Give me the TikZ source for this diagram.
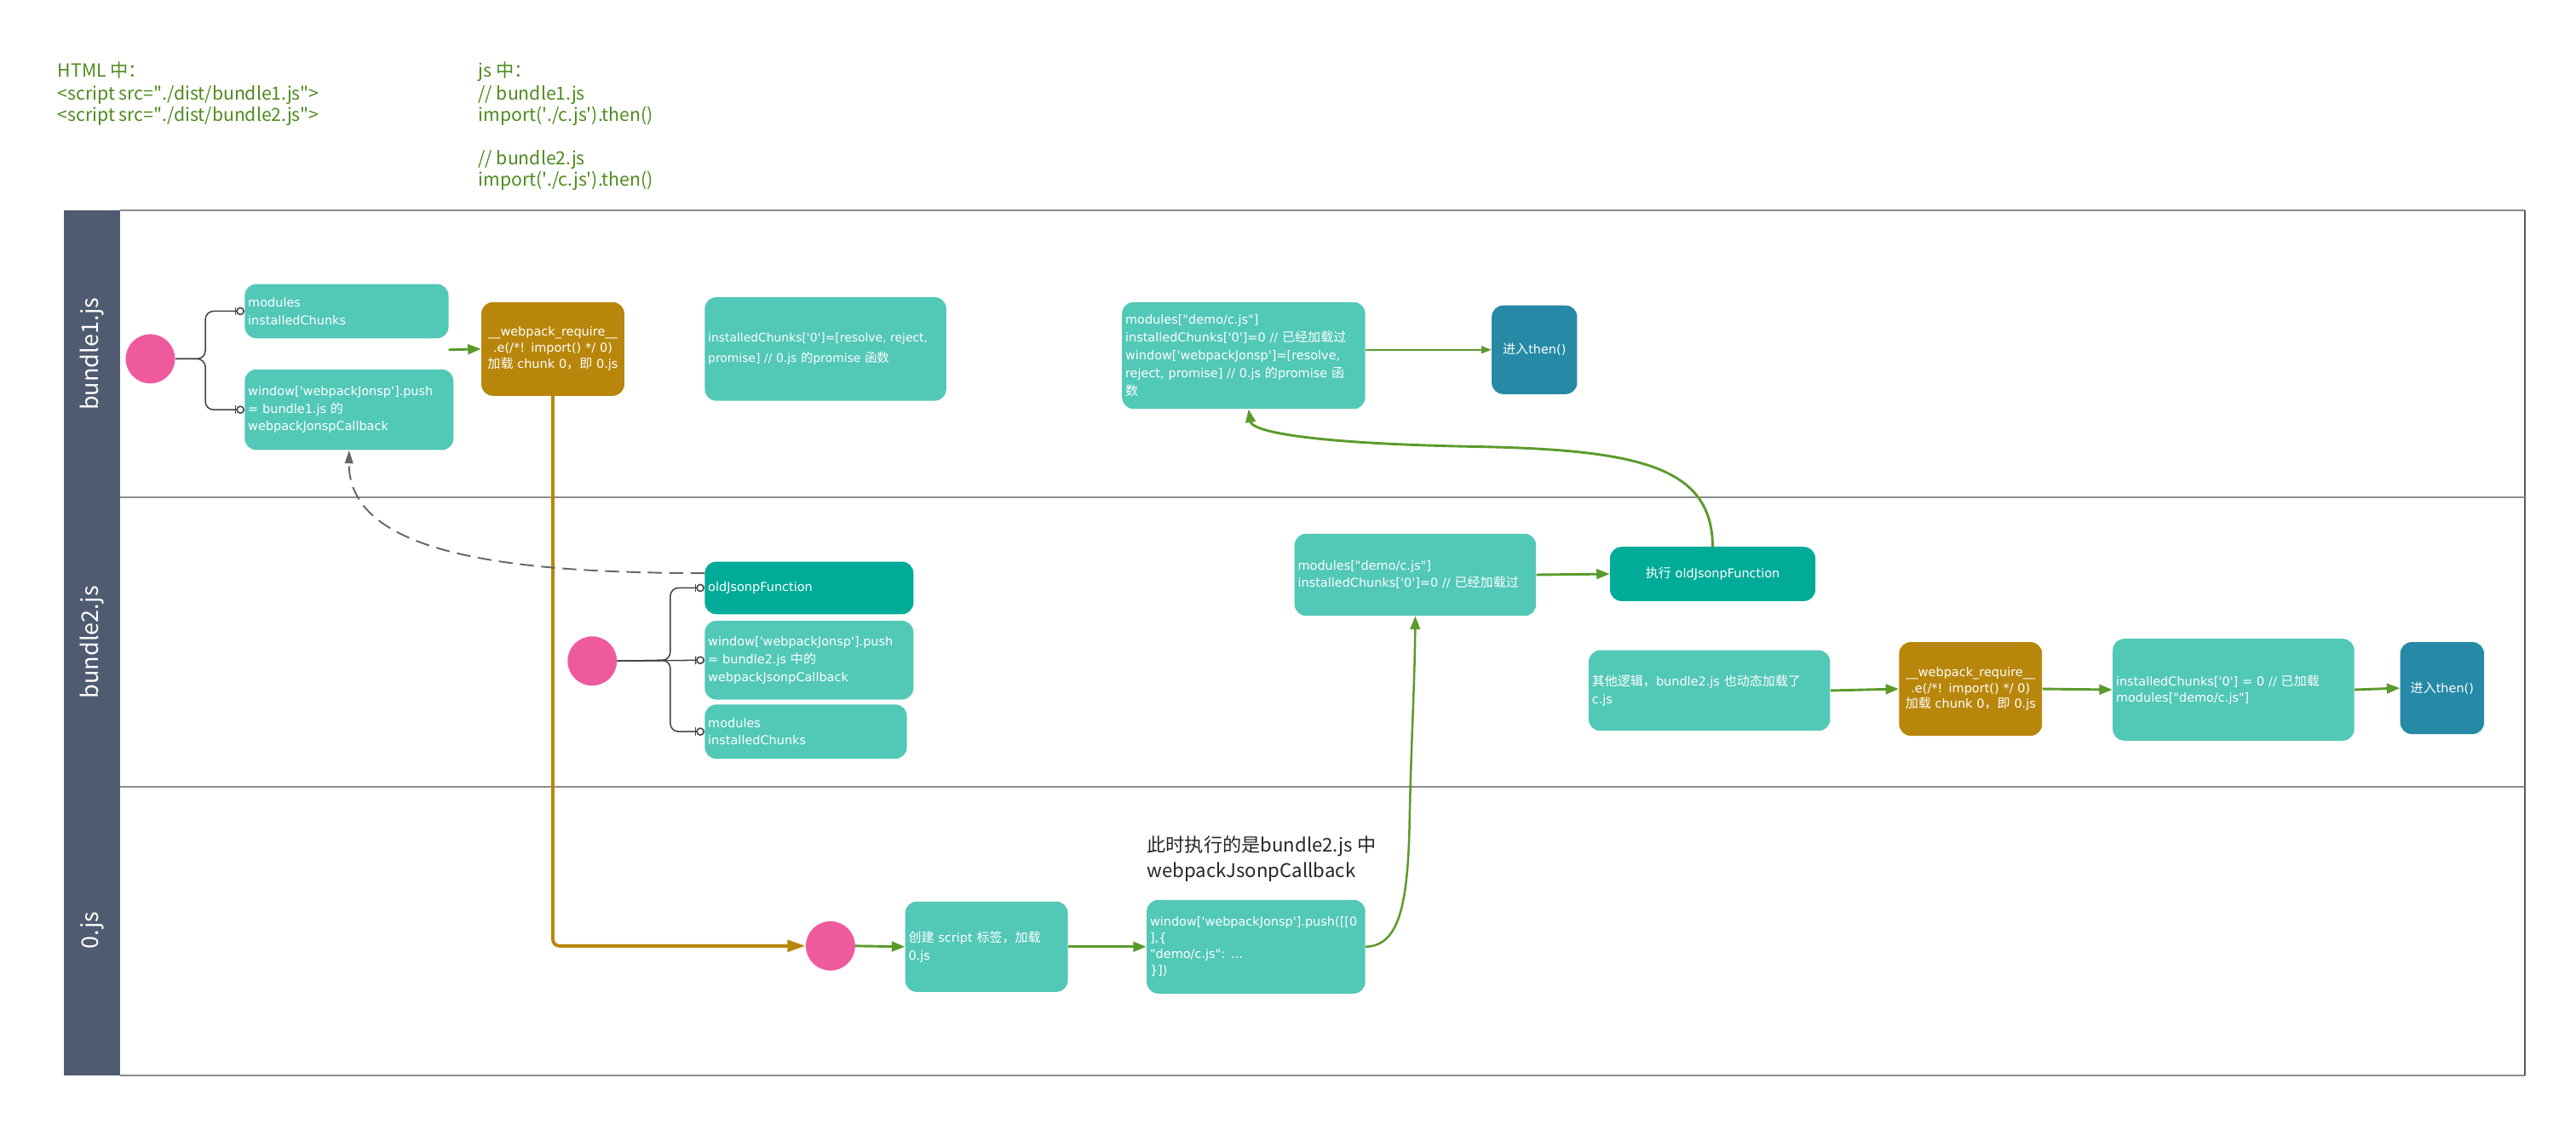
\documentclass[tikz,border=0pt]{standalone}
\usepackage{fontspec}
\setmainfont{Noto Sans CJK SC}
\newfontfamily\boxfont{DejaVu Sans}
\newfontfamily\cjk{Noto Sans CJK SC}[Scale=1.04]
\usetikzlibrary{arrows.meta}
\definecolor{boxteal}{HTML}{52C8B7}
\definecolor{darkteal}{HTML}{00AB98}
\definecolor{gold}{HTML}{B8860B}
\definecolor{thenblue}{HTML}{268AA6}
\definecolor{pinkc}{HTML}{EF5A9F}
\definecolor{lanehead}{HTML}{4F5B70}
\definecolor{flowgreen}{HTML}{5B9A2B}
\definecolor{codegreen}{HTML}{4E8B1E}
\definecolor{laneline}{HTML}{8C8C8C}
\definecolor{connc}{HTML}{444444}
\definecolor{backc}{HTML}{666666}
\newcommand{\sq}{\textquotesingle}
\newcommand{\dq}{\textquotedbl}
\newcommand{\zh}[1]{{\cjk #1}}
\begin{document}
\begin{tikzpicture}[x=1pt,y=-1pt,
  tbox/.style={rounded corners=7pt, fill=boxteal, text=white, align=left,
    inner xsep=2pt, inner ysep=2pt, font=\boxfont\fontsize{7.5}{10.8}\selectfont},
  dbox/.style={tbox, fill=darkteal},
  gbox/.style={tbox, fill=gold, align=center, inner xsep=1pt, font=\boxfont\fontsize{7.5}{9.8}\selectfont},
  bbox/.style={tbox, fill=thenblue, align=center},
  startc/.style={circle, fill=pinkc, minimum size=30pt, inner sep=0pt},
  conn/.style={draw=connc, line width=0.8pt, rounded corners=5pt},
  erd/.style={-{Bar[width=5pt] Circle[length=5pt,width=5pt,fill=white]}},
  flow/.style={draw=flowgreen, line width=1.5pt, -{Triangle[length=8pt,width=6pt]}},
  thinflow/.style={draw=flowgreen, line width=0.8pt, -{Triangle[length=6pt,width=4.5pt]}},
  goldflow/.style={draw=gold, line width=2pt, rounded corners=4pt, -{Triangle[length=11pt,width=7pt]}},
  back/.style={draw=backc, line width=1pt, dash pattern=on 8.5pt off 4.5pt, -{Triangle[length=8pt,width=5pt]}},
  code/.style={anchor=base west, inner sep=0pt, text=codegreen, font=\fontsize{11}{13}\selectfont},
  lanelab/.style={rotate=90, text=white, font=\fontsize{14}{14}\selectfont},
  note/.style={anchor=west, align=left, inner sep=0pt, text=black!85, font=\fontsize{11.5}{15.5}\selectfont}
]
\useasboundingbox (0,0) rectangle (1568,684);
\fill[white] (0,0) rectangle (1568,684);

% header code text
\node[code] (h1) at (35,47) {HTML 中：};
\node[code] (h2) at (35,61) {<script src=\dq./dist/bundle1.js\dq>};
\node[code] (h3) at (35,74) {<script src=\dq./dist/bundle2.js\dq>};
\node[code] (j1) at (291,47) {js 中：};
\node[code] (j2) at (291,61) {// bundle1.js};
\node[code] (j3) at (291,74) {import(\sq./c.js\sq).then()};
\node[code] (j4) at (291,100.5) {// bundle2.js};
\node[code] (j5) at (291,113.5) {import(\sq./c.js\sq).then()};

% swimlanes
\fill[lanehead] (39,128) rectangle (73,655);
\draw[laneline, line width=1pt] (73,128) -- (1537,128);
\draw[laneline, line width=1pt] (73,655) -- (1537,655);
\draw[black!65, line width=1pt] (1537,128) -- (1537,655);
\draw[laneline, line width=1pt] (73,303) -- (1537,303);
\draw[laneline, line width=1pt] (73,479) -- (1537,479);
\node[lanelab] (l1) at (56,215.5) {bundle1.js};
\node[lanelab] (l2) at (56,391) {bundle2.js};
\node[lanelab] (l3) at (56,566.5) {0.js};

% lane 1
\node[startc] (c1) at (91.5,218.5) {};
\node[tbox, text width=120pt, minimum height=33pt] (m1) at (211,189.5) {modules\\installedChunks};
\node[tbox, text width=123pt, minimum height=49pt] (w1) at (212.5,249.5) {window[\sq webpackJonsp\sq].push\\= bundle1.js \zh{的}\\webpackJonspCallback};
\node[gbox, text width=85pt, minimum height=57pt] (req1) at (336.5,212.5) {\_\_webpack\_require\_\_\\.e(/*! import() */ 0)\\\zh{加载} chunk 0\zh{，即} 0.js};
\node[tbox, text width=143pt, minimum height=63pt, font=\boxfont\fontsize{7.2}{12.5}\selectfont] (ic1) at (502.5,212.5) {installedChunks[\sq 0\sq]=[resolve, reject,\\promise] // 0.js \zh{的}promise \zh{函数}};
\node[tbox, text width=144pt, minimum height=65pt] (mc1) at (757,216.5) {modules[\dq demo/c.js\dq]\\installedChunks[\sq 0\sq]=0 // \zh{已经加载过}\\window[\sq webpackJonsp\sq]=[resolve,\\reject, promise] // 0.js \zh{的}promise \zh{函}\\\zh{数}};
\node[bbox, text width=48pt, minimum height=54pt] (then1) at (934,213) {\zh{进入}then()};

% lane 2
\node[startc] (c2) at (360.5,402.5) {};
\node[dbox, text width=123pt, minimum height=32pt] (old2) at (492.5,358) {oldJsonpFunction};
\node[tbox, text width=123pt, minimum height=48pt] (w2) at (492.5,402) {window[\sq webpackJonsp\sq].push\\= bundle2.js \zh{中的}\\webpackJsonpCallback};
\node[tbox, text width=119pt, minimum height=33pt] (m2) at (490.5,445.5) {modules\\installedChunks};
\node[tbox, text width=143pt, minimum height=50pt] (mc2) at (861.5,350) {modules[\dq demo/c.js\dq]\\installedChunks[\sq 0\sq]=0 // \zh{已经加载过}};
\node[dbox, align=center, text width=121pt, minimum height=33pt] (exec2) at (1042.5,349.5) {\zh{执行} oldJsonpFunction};
\node[tbox, text width=143pt, minimum height=49pt] (other2) at (1040.5,420.5) {\zh{其他逻辑，}bundle2.js \zh{也动态加载了}\\c.js};
\node[gbox, text width=85pt, minimum height=57pt] (req2) at (1199.5,419.5) {\_\_webpack\_require\_\_\\.e(/*! import() */ 0)\\\zh{加载} chunk 0\zh{，即} 0.js};
\node[tbox, text width=143pt, minimum height=62pt, font=\boxfont\fontsize{7.5}{9.8}\selectfont] (ic2) at (1359.5,420) {installedChunks[\sq 0\sq] = 0 // \zh{已加载}\\modules[\dq demo/c.js\dq]};
\node[bbox, text width=47pt, minimum height=56pt] (then2) at (1486.5,419) {\zh{进入}then()};

% lane 3
\node[startc] (c3) at (505.5,576) {};
\node[tbox, text width=95pt, minimum height=55pt] (cs3) at (600.5,576.5) {\zh{创建} script \zh{标签，加载}\\0.js};
\node[tbox, text width=129pt, minimum height=57pt, font=\boxfont\fontsize{7.5}{9.8}\selectfont] (wp3) at (764.5,576.5) {window[\sq webpackJonsp\sq].push([[0\\],\{\\\dq demo/c.js\dq: ...\\\}])};
\node[note] (n3) at (698,523) {此时执行的是bundle2.js 中\\webpackJsonpCallback};

% brace connectors
\draw[conn, erd] (c1.east) -- (125,218.5) |- (m1.west);
\draw[conn, erd] (c1.east) -- (125,218.5) |- (w1.west);
\draw[conn, erd] (c2.east) -- (w2.west);
\draw[conn, erd] (c2.east) -- (408,402) |- (old2.west);
\draw[conn, erd] (c2.east) -- (408,402) |- (m2.west);

% flows
\coordinate (a1) at (273,213);
\draw[flow] (a1) -- (req1.west);
\draw[goldflow] (req1.south) |- (c3.west);
\draw[thinflow] (mc1.east |- then1.west) -- (then1.west);
\draw[flow] (mc2.east) -- (exec2.west);
\draw[flow] (other2.east) -- (req2.west);
\draw[flow] (req2.east) -- (ic2.west);
\draw[flow] (ic2.east) -- (then2.west);
\draw[flow] (c3.east) -- (cs3.west);
\draw[flow] (cs3.east) -- (wp3.west);
\draw[flow] (exec2.north) .. controls (1042,285) and (1000,274) .. (900,272)
  .. controls (790,270) and (762,262) .. ([xshift=3pt]mc1.south);
\draw[flow, line width=1.3pt] (wp3.east) .. controls (852,576) and (857,550) .. (858,500)
  .. controls (859,450) and (861,420) .. (mc2.south);
\draw[back] ([yshift=9pt]old2.west) .. controls (300,349) and (212,335) .. (w1.south);
\end{tikzpicture}
\end{document}
